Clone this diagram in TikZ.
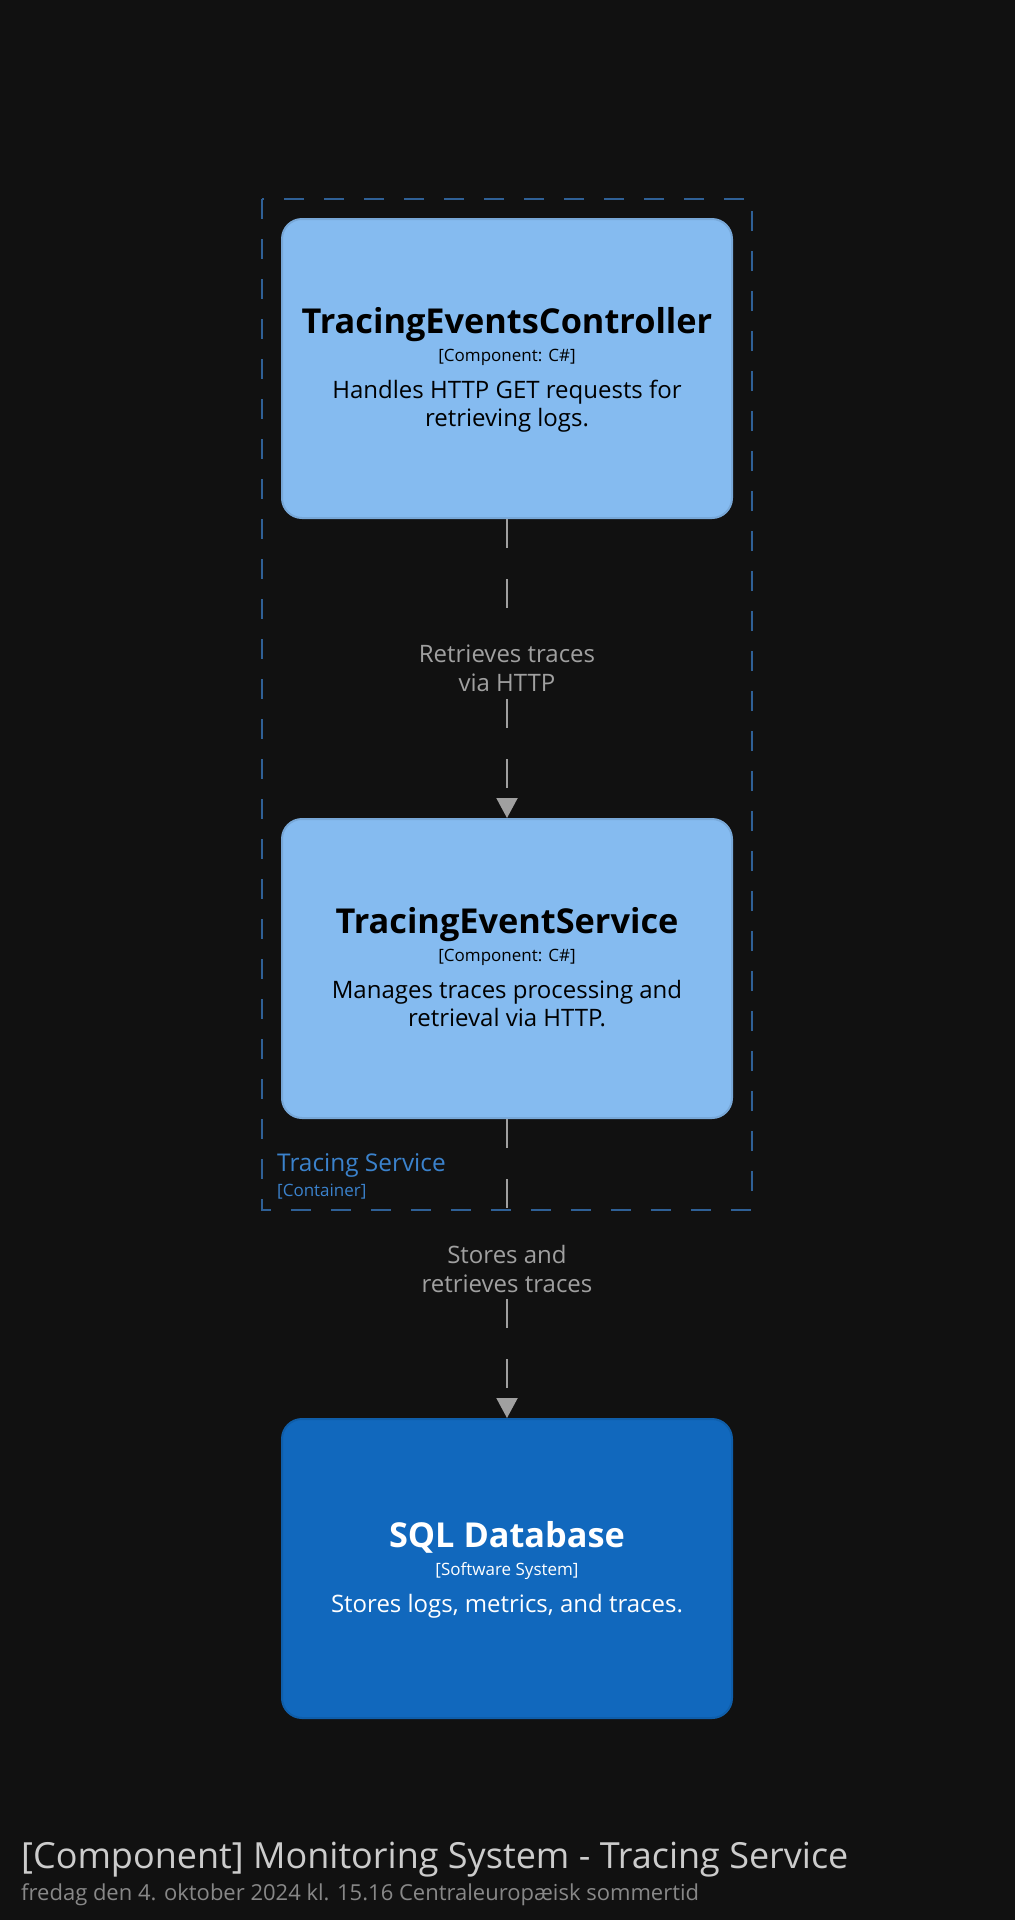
\documentclass[tikz,border=0pt]{standalone}
\usepackage{fontspec}
\setmainfont{Open Sans}
\usetikzlibrary{arrows.meta}
\definecolor{canvas}{HTML}{111111}
\definecolor{compfill}{HTML}{85BBF0}
\definecolor{compline}{HTML}{78A8D8}
\definecolor{sysfill}{HTML}{1168BD}
\definecolor{sysline}{HTML}{0F5EAA}
\definecolor{bound}{HTML}{2F6096}
\definecolor{boundtext}{HTML}{3B82CC}
\definecolor{relline}{HTML}{A0A0A0}
\definecolor{titletext}{HTML}{CCCCCC}
\definecolor{datetext}{HTML}{888888}
\begin{document}
\begin{tikzpicture}[x=1pt,y=-1pt,
  box/.style={draw, line width=2pt, rounded corners=20pt, minimum width=450pt, minimum height=299pt, inner sep=0pt},
  comp/.style={box, fill=compfill, draw=compline},
  sys/.style={box, fill=sysfill, draw=sysline},
  ename/.style={anchor=base, inner sep=0pt, font=\bfseries\fontsize{34.3}{40}\selectfont},
  etech/.style={anchor=base, inner sep=0pt, font=\fontsize{17}{20}\selectfont},
  edesc/.style={anchor=base, inner sep=0pt, font=\fontsize{24}{28}\selectfont},
  rel/.style={draw=relline, line width=2pt, dash pattern=on 29pt off 31pt, -{Triangle[width=21pt,length=20pt,fill=relline]}},
  rellabel/.style={fill=canvas, text=relline, align=center, inner xsep=4pt, inner ysep=0pt, minimum height=61pt, font=\fontsize{24}{29}\selectfont}]
\fill[canvas] (0,0) rectangle (1015,1920);
\draw[bound, line width=2pt, dash pattern=on 20pt off 20pt] (262,199) rectangle (752,1210);
\node[comp] (ctrl) at (507,368.5) {};
\node[comp] (svc) at (507,968.5) {};
\node[sys] (db) at (507,1568.5) {};
\node[ename] (ctrlname) at (507,333) {TracingEventsController};
\node[etech] (ctrltech) at (507,361) {[Component: C\#]};
\node[edesc] (ctrldesc1) at (507,398) {Handles HTTP GET requests for};
\node[edesc] (ctrldesc2) at (507,426) {retrieving logs.};
\node[ename] (svcname) at (507,933) {TracingEventService};
\node[etech] (svctech) at (507,961) {[Component: C\#]};
\node[edesc] (svcdesc1) at (507,998) {Manages traces processing and};
\node[edesc] (svcdesc2) at (507,1026) {retrieval via HTTP.};
\node[ename, text=white] (dbname) at (507,1547) {SQL Database};
\node[etech, text=white] (dbtech) at (507,1575) {[Software System]};
\node[edesc, text=white] (dbdesc) at (507,1612) {Stores logs, metrics, and traces.};
\draw[rel] (ctrl) -- node[rellabel] (rel1) {Retrieves traces\\via HTTP} (svc);
\draw[rel] (svc) -- node[rellabel] (rel2) {Stores and\\retrieves traces} (db);
\node[anchor=base west, inner sep=0pt, text=boundtext, font=\fontsize{24.4}{28}\selectfont] (bname) at (277,1171) {Tracing Service};
\node[anchor=base west, inner sep=0pt, text=boundtext, font=\fontsize{17}{20}\selectfont] (btype) at (277,1196) {[Container]};
\node[anchor=base west, inner sep=0pt, text=titletext, font=\fontsize{36}{40}\selectfont] (title) at (21,1868) {[Component] Monitoring System - Tracing Service};
\node[anchor=base west, inner sep=0pt, text=datetext, font=\fontsize{22}{26}\selectfont] (date) at (21,1900) {fredag den 4. oktober 2024 kl. 15.16 Centraleuropæisk sommertid};
\end{tikzpicture}
\end{document}
